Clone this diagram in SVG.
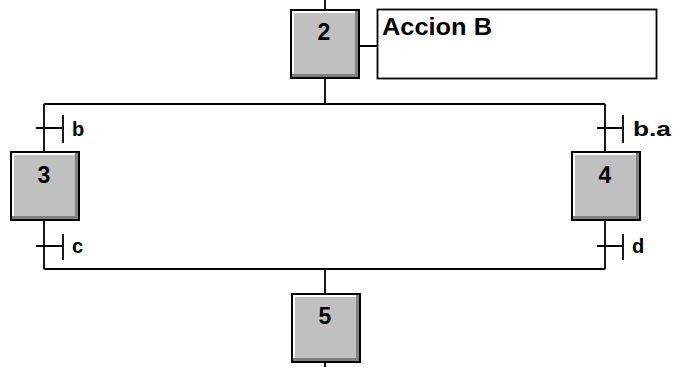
<svg xmlns="http://www.w3.org/2000/svg" xmlns:xlink="http://www.w3.org/1999/xlink" width="673" height="367" viewBox="0 0 673 367">
<style>
.ln{stroke:#000;stroke-width:1.8;fill:none}
.num{font-family:"Liberation Sans",Arial,sans-serif;font-weight:bold;font-size:23px;fill:#000;text-anchor:middle}
.lbl{font-family:"Liberation Sans",Arial,sans-serif;font-weight:bold;font-size:20px;fill:#000}
.act{font-family:"Liberation Sans",Arial,sans-serif;font-weight:bold;font-size:23px;fill:#000}
</style>
<defs>
<g id="stepbox">
<rect x="0" y="0" width="70" height="70" fill="#000"/>
<rect x="2" y="2" width="66" height="66" fill="#808080"/>
<rect x="2" y="2" width="63" height="63" fill="#ffffff"/>
<rect x="4" y="4" width="61" height="61" fill="#c0c0c0"/>
</g>
</defs>
<rect width="673" height="367" fill="#fff"/>
<g id="connectors">
<path class="ln" d="M325 0V9M325 79V104M44 104H605M44 104V152M605 104V152M44 220V269M605 221V269M44 269H605M325 269V293M325 363V367M360 46H377"/>
<path class="ln" d="M36 128H63M63 115V143M597 128H623M623 115V143M36 246H63M63 234V260M597 246H623M623 234V260"/>
<text class="lbl" x="72" y="136">b</text>
<text class="lbl" x="633" y="136" textLength="38" lengthAdjust="spacingAndGlyphs">b.a</text>
<text class="lbl" x="72" y="253">c</text>
<text class="lbl" x="632" y="253">d</text>
</g>
<g id="step2">
<use xlink:href="#stepbox" x="290" y="9"/>
<text class="num" x="324" y="40">2</text>
</g>
<g id="action2">
<rect x="377.5" y="9.5" width="279" height="69" fill="#fff" stroke="#000" stroke-width="1.8"/>
<text class="act" x="382" y="35" textLength="110" lengthAdjust="spacingAndGlyphs">Accion B</text>
</g>
<g id="step3">
<use xlink:href="#stepbox" x="10" y="151"/>
<text class="num" x="44" y="183">3</text>
</g>
<g id="step4">
<use xlink:href="#stepbox" x="571" y="151"/>
<text class="num" x="605" y="183">4</text>
</g>
<g id="step5">
<use xlink:href="#stepbox" x="291" y="293"/>
<text class="num" x="325" y="324">5</text>
</g>
</svg>
